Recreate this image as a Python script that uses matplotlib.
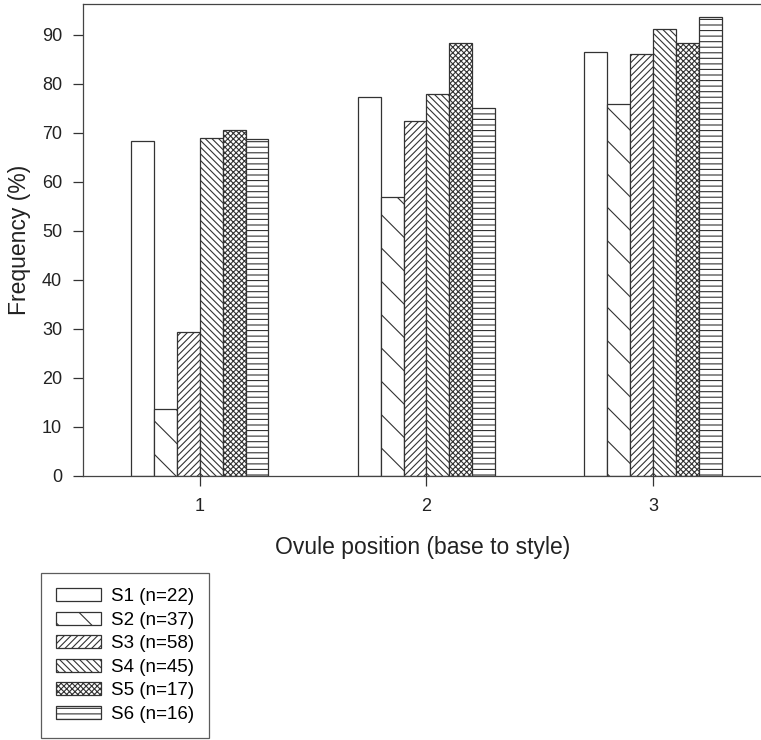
import matplotlib
matplotlib.use("Agg")
import matplotlib.pyplot as plt
import numpy as np

# Data
positions = [1, 2, 3]
series_labels = ["S1 (n=22)", "S2 (n=37)", "S3 (n=58)", "S4 (n=45)", "S5 (n=17)", "S6 (n=16)"]
s1 = [68.3, 77.3, 86.5]
s2 = [13.6, 56.9, 75.8]
s3 = [29.4, 72.4, 86.2]
s4 = [68.9, 78.0, 91.1]
s5 = [70.6, 88.3, 88.3]
s6 = [68.7, 75.0, 93.7]
hatches = ["", "\\", "/////", "\\\\\\\\\\", "xxxxxx", "---"]

plt.rcParams["font.family"] = ["Liberation Sans", "DejaVu Sans"]
plt.rcParams["hatch.linewidth"] = 0.8
plt.rcParams["hatch.color"] = "#333333"

fig = plt.figure(figsize=(7.61, 7.40), dpi=100)
ax = fig.add_axes([83 / 761, 1 - 476 / 740, 679 / 761, 472 / 740])

values = [s1, s2, s3, s4, s5, s6]
width = 0.101
x = np.array(positions, dtype=float)
handles = []
for i, (vals, lab, h) in enumerate(zip(values, series_labels, hatches)):
    b = ax.bar(x + (i - 2.5) * width, vals, width, align="center",
               facecolor="white", edgecolor="#333333", linewidth=0.9,
               hatch=h, label=lab)
    handles.append(b)

ax.set_xlim(0.485, 3.48)
ax.set_ylim(0, 96.3)
ax.set_xticks(positions)
ax.set_yticks(np.arange(0, 100, 10))
ax.tick_params(direction="out", length=7, width=0.9, colors="#333333",
               labelsize=13, labelcolor="#222222")
ax.tick_params(axis="x", pad=9)
ax.tick_params(axis="y", pad=8)
for sp in ax.spines.values():
    sp.set_color("#444444")
    sp.set_linewidth(0.9)

ax.set_xlabel("Ovule position (base to style)", fontsize=16.5, color="#222222", labelpad=15)
ax.set_ylabel("Frequency (%)", fontsize=16.5, color="#222222", labelpad=8)

leg = fig.legend(handles=handles, loc="upper left",
                 bbox_to_anchor=(41 / 761, 1 - 573 / 740),
                 fontsize=13.5, frameon=True, fancybox=False,
                 handlelength=2.4, handleheight=0.7, labelspacing=0.34,
                 handletextpad=0.55, borderpad=0.8, borderaxespad=0)
leg.get_frame().set_edgecolor("#333333")
leg.get_frame().set_linewidth(0.9)

fig.savefig("out.png", dpi=100)
